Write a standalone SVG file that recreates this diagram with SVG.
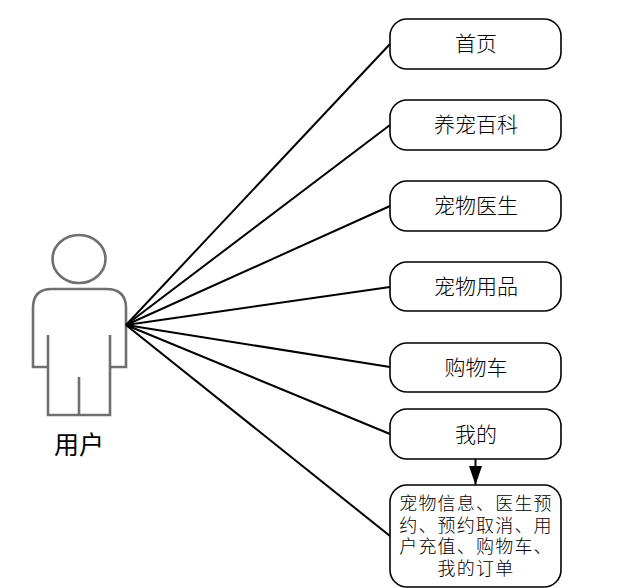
<svg xmlns="http://www.w3.org/2000/svg" width="630" height="588" viewBox="0 0 630 588">
<style>
.box{fill:#fff;stroke:#000;stroke-width:1.6}
.t{font-family:"Noto Sans CJK SC","Liberation Serif",serif;font-size:21px;font-weight:300;fill:#000;text-anchor:middle;dominant-baseline:central}
.m{font-size:18px;letter-spacing:1.2px}
.c line{stroke:#000;stroke-width:2}
.actor{fill:none;stroke:#6f6f6f;stroke-width:2.6}
</style>
<defs><marker id="a" markerUnits="userSpaceOnUse" markerWidth="19" markerHeight="14" refX="19" refY="6.500" orient="auto"><path d="M0 0L19 6.500L0 13Z" fill="#000"/></marker></defs>
<g id="actor">
<ellipse class="actor" cx="79" cy="259" rx="26.500" ry="24"/>
<path class="actor" d="M48 367H33V308Q33 289 52 289H106Q126 289 126 308V367H110M48 335V415H110V335M79 377V415"/>
<text x="79" y="443" class="t" style="font-size:25px;font-weight:400">用户</text>
</g>
<g id="connectors" class="c">
<line x1="126" y1="325" x2="390" y2="44"/>
<line x1="126" y1="325" x2="390" y2="125"/>
<line x1="126" y1="325" x2="390" y2="206"/>
<line x1="126" y1="325" x2="390" y2="287"/>
<line x1="126" y1="325" x2="390" y2="367"/>
<line x1="126" y1="325" x2="390" y2="434"/>
<line x1="126" y1="325" x2="390" y2="536"/>
<line x1="475.500" y1="459" x2="475.500" y2="485" marker-end="url(#a)"/>
</g>
<g id="n1"><rect class="box" x="390" y="19" width="171" height="50" rx="17"/><text class="t" x="476" y="42">首页</text></g>
<g id="n2"><rect class="box" x="390" y="100" width="171" height="50" rx="17"/><text class="t" x="476" y="123">养宠百科</text></g>
<g id="n3"><rect class="box" x="390" y="181" width="171" height="50" rx="17"/><text class="t" x="476" y="204">宠物医生</text></g>
<g id="n4"><rect class="box" x="390" y="262" width="171" height="49" rx="17"/><text class="t" x="476" y="285">宠物用品</text></g>
<g id="n5"><rect class="box" x="390" y="343" width="171" height="49" rx="17"/><text class="t" x="476" y="366">购物车</text></g>
<g id="n6"><rect class="box" x="390" y="409" width="171" height="50" rx="17"/><text class="t" x="476" y="433">我的</text></g>
<g id="n7"><rect class="box" x="390" y="485" width="171" height="102" rx="17"/>
<text class="t m"><tspan x="476" y="502">宠物信息、医生预</tspan><tspan x="476" y="524">约、预约取消、用</tspan><tspan x="476" y="545">户充值、购物车、</tspan><tspan x="476" y="567">我的订单</tspan></text></g>
</svg>
